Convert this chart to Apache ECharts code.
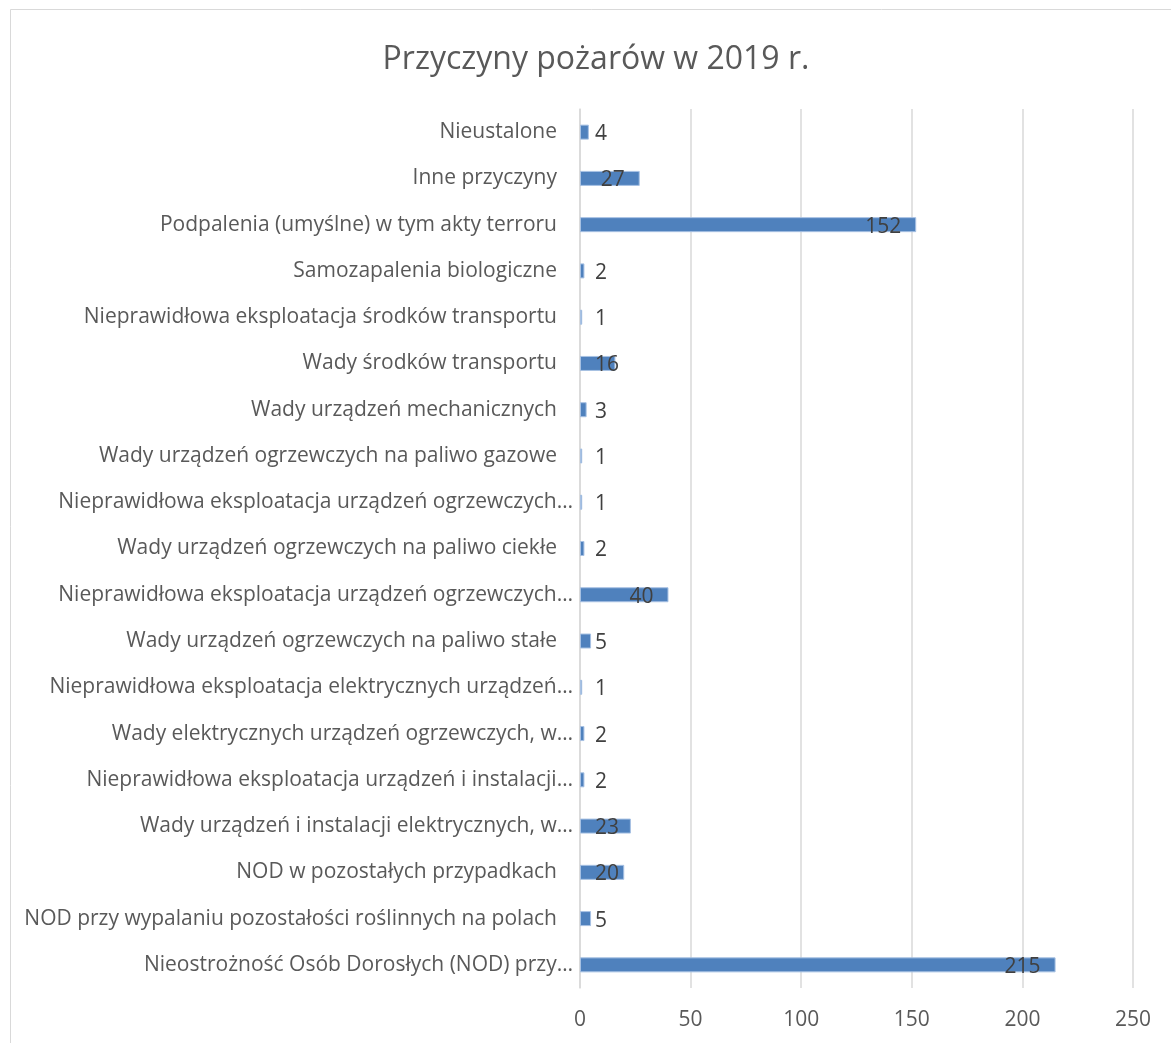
<!DOCTYPE html>
<html>
<head>
<meta charset="utf-8">
<script src="https://cdn.jsdelivr.net/npm/echarts@6/dist/echarts.min.js"></script>
<style>
html,body{margin:0;padding:0;background:#fff;}
#main{width:1171px;height:1043px;}
</style>
</head>
<body>
<div id="main"></div>
<script>
// categories from bottom to top
var categories = [
  "Nieostrożność Osób Dorosłych (NOD) przy…",
  "NOD przy wypalaniu pozostałości roślinnych na polach",
  "NOD w pozostałych przypadkach",
  "Wady urządzeń i instalacji elektrycznych, w…",
  "Nieprawidłowa eksploatacja urządzeń i instalacji…",
  "Wady elektrycznych urządzeń ogrzewczych, w…",
  "Nieprawidłowa eksploatacja elektrycznych urządzeń…",
  "Wady urządzeń ogrzewczych na paliwo stałe",
  "Nieprawidłowa eksploatacja urządzeń ogrzewczych…",
  "Wady urządzeń ogrzewczych na paliwo ciekłe",
  "Nieprawidłowa eksploatacja urządzeń ogrzewczych…",
  "Wady urządzeń ogrzewczych na paliwo gazowe",
  "Wady urządzeń mechanicznych",
  "Wady środków transportu",
  "Nieprawidłowa eksploatacja środków transportu",
  "Samozapalenia biologiczne",
  "Podpalenia (umyślne) w tym akty terroru",
  "Inne przyczyny",
  "Nieustalone"
];
var values = [215, 5, 20, 23, 2, 2, 1, 5, 40, 2, 1, 1, 3, 16, 1, 2, 152, 27, 4];
var axisTicks = [0, 50, 100, 150, 200, 250];

var FONT = "'Open Sans', sans-serif";
var axisMax = axisTicks[axisTicks.length - 1];
var plotWidth = 1171 - 580 - 38;
var pxPerUnit = plotWidth / axisMax;

var data = values.map(function (v) {
  var labelW = String(v).length * 12;
  var inside = v * pxPerUnit - 15 - labelW >= 15;
  return {
    value: v,
    label: inside ? { position: 'insideRight', distance: 15 } : { position: 'insideLeft', distance: 15 }
  };
});

var chart = echarts.init(document.getElementById('main'), null, { renderer: 'canvas' });
chart.setOption({
  backgroundColor: '#ffffff',
  animation: false,
  title: {
    text: 'Przyczyny pożarów w 2019 r.',
    left: 591,
    textAlign: 'center',
    top: 39,
    textStyle: { fontFamily: FONT, fontSize: 32, fontWeight: 'normal', color: '#595959' }
  },
  graphic: [{
    type: 'rect',
    shape: { x: 10.5, y: 9.5, width: 1200, height: 1100 },
    style: { fill: 'none', stroke: '#d9d9d9', lineWidth: 1 },
    silent: true
  }],
  grid: { left: 580, right: 38, top: 109, bottom: 55, containLabel: false },
  xAxis: {
    type: 'value',
    min: 0,
    max: axisMax,
    interval: 50,
    axisLine: { show: false },
    axisTick: { show: false },
    splitLine: { show: true, lineStyle: { color: '#d9d9d9', width: 1.5 } },
    axisLabel: { fontFamily: FONT, fontSize: 21, color: '#595959', margin: 22 }
  },
  yAxis: {
    type: 'category',
    data: categories,
    axisLine: { show: true, lineStyle: { color: '#d9d9d9', width: 1.5 } },
    axisTick: { show: false },
    axisLabel: {
      margin: 7,
      formatter: function (s) {
        return s.charAt(s.length - 1) === '…' ? '{t|' + s + '}' : '{n|' + s + '}';
      },
      rich: {
        t: { fontFamily: FONT, fontSize: 21, color: '#595959' },
        n: { fontFamily: FONT, fontSize: 21, color: '#595959', padding: [0, 16, 0, 0] }
      }
    }
  },
  series: [{
    type: 'bar',
    data: data,
    barWidth: 15,
    itemStyle: { color: '#4f81bd', borderColor: '#a7c1e3', borderWidth: 1 },
    label: {
      show: true,
      fontFamily: FONT,
      fontSize: 21,
      color: '#404040',
      offset: [0, 2]
    }
  }]
});
</script>
</body>
</html>
